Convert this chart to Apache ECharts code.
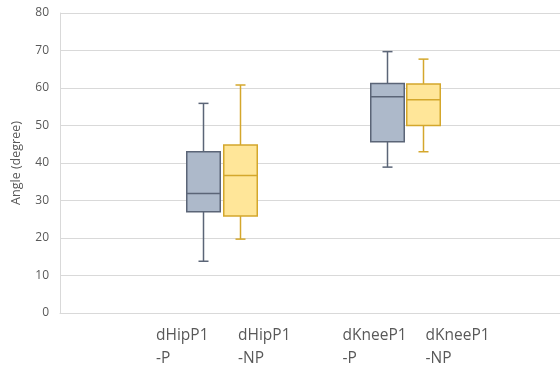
<!DOCTYPE html>
<html>
<head>
<meta charset="utf-8">
<script src="https://cdn.jsdelivr.net/npm/echarts@6/dist/echarts.min.js"></script>
<style>
  html, body { margin: 0; padding: 0; background: #fff; }
  #chart { width: 560px; height: 366px; }
</style>
</head>
<body>
<div id="chart"></div>
<script>
// Groups and their five-number summaries: [min, Q1, median, Q3, max]
var categories = ['dHipP1\n-P', 'dHipP1\n-NP', 'dKneeP1\n-P', 'dKneeP1\n-NP'];
var hipP    = [13.8, 27.0, 31.9, 43.0, 55.9];
var hipNP   = [19.7, 25.9, 36.7, 44.8, 60.8];
var kneeP   = [38.9, 45.7, 57.7, 61.2, 69.7];
var kneeNP  = [43.0, 50.0, 56.9, 61.1, 67.7];
var yTicks  = [0, 10, 20, 30, 40, 50, 60, 70, 80];

// Layout along the horizontal axis (0..100 across the plot)
var boxCenters  = [28.5, 35.9, 65.3, 72.6];
var labelStarts = [19.2, 35.6, 56.5, 73.1];
var boxWidth = 6.7;
var capWidth = 2.0;

var styles = [
  { fill: '#adb9ca', stroke: '#5b6577' },
  { fill: '#ffe699', stroke: '#d4a72c' },
  { fill: '#adb9ca', stroke: '#5b6577' },
  { fill: '#ffe699', stroke: '#d4a72c' }
];

var summaries = [hipP, hipNP, kneeP, kneeNP];
var seriesData = summaries.map(function (s, i) {
  return [boxCenters[i]].concat(s).concat([i]);
});

function renderBox(params, api) {
  var x = api.value(0);
  var idx = api.value(6);
  var st = styles[idx];
  var half = api.size([boxWidth, 0])[0] / 2;
  var capHalf = api.size([capWidth, 0])[0] / 2;
  var pMin = api.coord([x, api.value(1)]);
  var pQ1 = api.coord([x, api.value(2)]);
  var pMed = api.coord([x, api.value(3)]);
  var pQ3 = api.coord([x, api.value(4)]);
  var pMax = api.coord([x, api.value(5)]);
  var cx = Math.round(pMin[0]) + 0.5;
  var lineStyle = { stroke: st.stroke, lineWidth: 1.5 };
  return {
    type: 'group',
    children: [
      { type: 'line', shape: { x1: cx, y1: pMax[1], x2: cx, y2: pQ3[1] }, style: lineStyle },
      { type: 'line', shape: { x1: cx, y1: pQ1[1], x2: cx, y2: pMin[1] }, style: lineStyle },
      { type: 'line', shape: { x1: cx - capHalf, y1: pMax[1], x2: cx + capHalf, y2: pMax[1] }, style: lineStyle },
      { type: 'line', shape: { x1: cx - capHalf, y1: pMin[1], x2: cx + capHalf, y2: pMin[1] }, style: lineStyle },
      { type: 'rect', shape: { x: cx - half, y: pQ3[1], width: half * 2, height: pQ1[1] - pQ3[1] },
        style: { fill: st.fill, stroke: st.stroke, lineWidth: 1.5 } },
      { type: 'line', shape: { x1: cx - half, y1: pMed[1], x2: cx + half, y2: pMed[1] }, style: lineStyle }
    ]
  };
}

var chart = echarts.init(document.getElementById('chart'));
chart.setOption({
  animation: false,
  textStyle: { fontFamily: 'Open Sans' },
  grid: { left: 60, right: 0, top: 13, bottom: 53, outerBoundsMode: 'none', containLabel: false },
  xAxis: {
    type: 'value',
    min: 0,
    max: 100,
    axisLine: { show: true, lineStyle: { color: '#d9d9d9', width: 1 } },
    axisTick: { show: false },
    splitLine: { show: false },
    axisLabel: {
      customValues: labelStarts,
      align: 'left',
      margin: 11,
      color: '#595959',
      fontSize: 15.5,
      lineHeight: 23,
      formatter: function (v) {
        var best = 0;
        for (var i = 1; i < labelStarts.length; i++) {
          if (Math.abs(labelStarts[i] - v) < Math.abs(labelStarts[best] - v)) best = i;
        }
        return categories[best];
      }
    }
  },
  yAxis: {
    type: 'value',
    min: yTicks[0],
    max: yTicks[yTicks.length - 1],
    interval: 10,
    name: 'Angle (degree)',
    nameLocation: 'middle',
    nameGap: 37,
    nameTextStyle: { color: '#595959', fontSize: 12.5 },
    axisLine: { show: true, lineStyle: { color: '#d9d9d9' } },
    axisTick: { show: false },
    axisLabel: { color: '#595959', fontSize: 12, margin: 11 },
    splitLine: { lineStyle: { color: '#d9d9d9', width: 1 } }
  },
  series: [{
    type: 'custom',
    renderItem: renderBox,
    encode: { x: 0, y: [1, 2, 3, 4, 5] },
    data: seriesData
  }]
});
</script>
</body>
</html>
